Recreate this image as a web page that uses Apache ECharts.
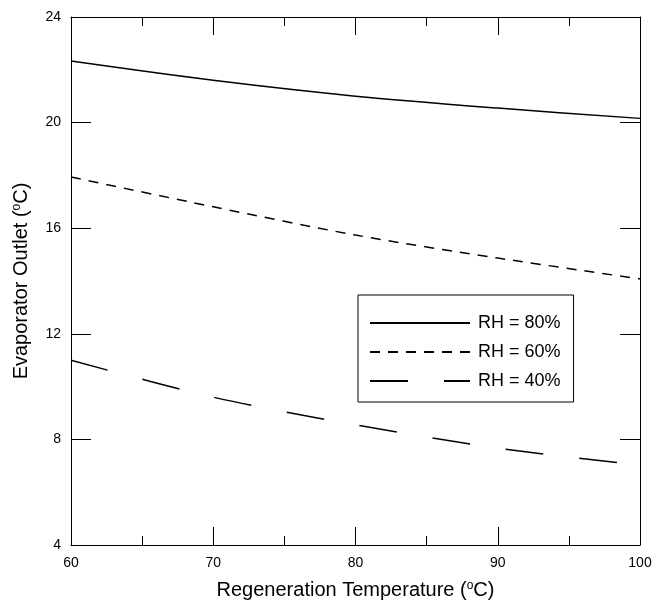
<!DOCTYPE html>
<html>
<head>
<meta charset="utf-8">
<script src="https://cdn.jsdelivr.net/npm/echarts@6/dist/echarts.min.js"></script>
<style>
  html, body { margin: 0; padding: 0; background: #fff; }
  #chart { width: 655px; height: 603px; }
</style>
</head>
<body>
<div id="chart"></div>
<script>
// data
var temps = [60, 70, 80, 90, 100]
var rh80 = [22.33, 21.6, 21.0, 20.55, 20.16]
var rh60 = [17.94, 16.81, 15.74, 14.87, 14.08]
var rh40 = [11.0, 9.6, 8.55, 7.67, 7.03]
var seriesNames = ['RH = 80%', 'RH = 60%', 'RH = 40%']

var font = 'Liberation Sans, Arial, sans-serif'

function pairs(vals) {
  return temps.map(function (t, i) { return [t, vals[i]] })
}

var myChart = echarts.init(document.getElementById('chart'))

// rich text so the "o" of degree sits up high
var titleRich = {
  a: { fontFamily: font, fontSize: 20, color: '#000' },
  s: { fontFamily: font, fontSize: 12, color: '#000', verticalAlign: 'top', lineHeight: 14 }
}

function xAx(pos, show) {
  return {
    type: 'value',
    position: pos,
    min: 60,
    max: 100,
    interval: 10,
    name: show ? '{a|Regeneration Temperature (}{s|o}{a|C)}' : '',
    nameLocation: 'middle',
    nameGap: 35,
    nameTextStyle: { rich: titleRich },
    axisLine: { show: true, lineStyle: { color: '#000', width: 1 } },
    axisTick: { show: true, inside: true, length: 18, lineStyle: { color: '#000' } },
    minorTick: { show: true, splitNumber: 2, length: 9, lineStyle: { color: '#000' } },
    axisLabel: { show: show, margin: 11, color: '#000', fontFamily: font, fontSize: 14 },
    splitLine: { show: false }
  }
}

function yAx(pos, show) {
  return {
    type: 'value',
    position: pos,
    min: 4,
    max: 24,
    interval: 4,
    name: show ? '{a|Evaporator Outlet (}{s|o}{a|C)}' : '',
    nameLocation: 'middle',
    nameGap: 40,
    nameRotate: 90,
    nameTextStyle: { rich: titleRich },
    axisLine: { show: true, lineStyle: { color: '#000', width: 1 } },
    axisTick: { show: true, inside: true, length: 20, lineStyle: { color: '#000' } },
    axisLabel: { show: show, margin: 10, color: '#000', fontFamily: font, fontSize: 14 },
    splitLine: { show: false }
  }
}

var option = {
  animation: false,
  backgroundColor: '#fff',
  grid: { left: 71, right: 15, top: 17, bottom: 58, outerBoundsMode: 'none' },
  xAxis: [xAx('bottom', true), xAx('top', false)],
  yAxis: [yAx('left', true), yAx('right', false)],
  legend: {
    orient: 'vertical',
    left: 358,
    top: 295,
    itemWidth: 100,
    itemHeight: 14,
    itemGap: 11,
    padding: [19, 13, 12, 11],
    borderColor: '#000',
    borderWidth: 1,
    backgroundColor: '#fff',
    itemStyle: { color: 'rgba(0,0,0,0)', borderWidth: 0, opacity: 0 },
    textStyle: { color: '#000', fontFamily: font, fontSize: 18, lineHeight: 14, padding: [0, 0, 0, 3] },
    data: seriesNames
  },
  series: [
    {
      name: seriesNames[0], type: 'line', data: pairs(rh80), smooth: 0.3,
      symbol: 'none', lineStyle: { color: '#000', width: 1.5, type: 'solid' }
    },
    {
      name: seriesNames[1], type: 'line', data: pairs(rh60), smooth: 0.3,
      symbol: 'none', lineStyle: { color: '#000', width: 1.5, type: [10, 8] }
    },
    {
      name: seriesNames[2], type: 'line', data: pairs(rh40), smooth: 0.3,
      symbol: 'none', lineStyle: { color: '#000', width: 1.5, type: [38, 36] }
    }
  ]
}
myChart.setOption(option)
</script>
</body>
</html>
